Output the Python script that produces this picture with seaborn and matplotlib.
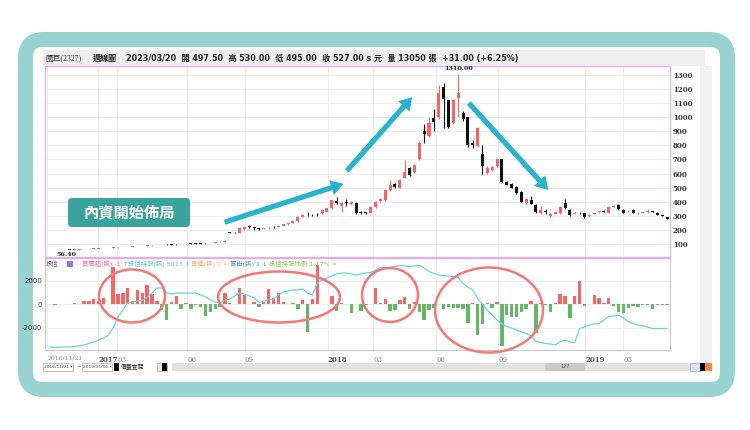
import numpy as np
import pandas as pd
import matplotlib
matplotlib.use("Agg")
import matplotlib.pyplot as plt
import seaborn as sns
from matplotlib.patches import FancyBboxPatch, Ellipse, Rectangle, FancyArrowPatch

sns.set_theme(style="white")
plt.rcParams['font.family'] = ['DejaVu Sans', 'Noto Sans CJK TC']

# 國巨(2327) 週線 2016/11/21 ~ 2019/05
opens = [57.5, 56.8, 57.2, 57.6, 58.6, 58.0, 60.0, 62.0, 63.2, 65.0,
         67.0, 69.0, 71.0, 72.2, 75.0, 76.2, 78.0, 80.2, 83.0, 85.0,
         87.2, 89.0, 91.0, 94.0, 93.5, 95.0, 97.0, 98.5, 100.0, 101.0,
         102.5, 103.5, 104.5, 104.0, 108.0, 112.0, 117.0, 182, 180, 176,
         205, 230, 218, 212, 208, 212, 220, 220, 230, 238,
         250, 262, 294, 314, 308, 307, 318, 330, 355, 402,
         370, 395, 382, 392, 328, 324, 322, 364, 402, 412,
         482, 525, 500, 570, 640, 610, 700, 900, 870, 995,
         1000, 1215, 1120, 960, 1140, 1030, 1000, 820, 795, 740,
         605, 625, 650, 700, 540, 525, 505, 470, 390, 410,
         375, 320, 335, 300, 315, 320, 390, 340, 315, 322,
         320, 298, 315, 326, 335, 320, 365, 375, 340, 332,
         340, 318, 322, 327, 332, 320, 302, 290]
highs = [58.0, 57.6, 58.0, 59.0, 59.0, 60.5, 62.6, 64.0, 65.6, 67.6,
         70.0, 72.0, 73.0, 76.0, 77.0, 79.0, 81.0, 84.0, 86.0, 88.0,
         90.0, 92.0, 94.0, 95.5, 96.0, 97.0, 98.5, 100.0, 101.5, 103.0,
         104.0, 105.0, 106.0, 109.0, 113.0, 118.0, 125.0, 185, 183, 215,
         226, 235, 221, 215, 215, 219, 227, 231, 241, 251,
         265, 296, 310, 328, 316, 318, 342, 356, 414, 430,
         396, 418, 402, 396, 334, 330, 366, 405, 425, 485,
         555, 530, 560, 695, 645, 665, 830, 955, 1000, 1060,
         1230, 1240, 1125, 1130, 1310, 1045, 1005, 840, 930, 800,
         650, 655, 705, 705, 545, 530, 510, 475, 425, 440,
         380, 370, 345, 320, 330, 370, 420, 345, 330, 330,
         322, 310, 326, 336, 340, 370, 378, 380, 345, 342,
         345, 326, 330, 345, 336, 325, 306, 294]
lows = [56.4, 56.5, 56.8, 57.2, 57.6, 57.6, 59.6, 61.2, 62.4, 64.4,
        66.2, 68.0, 70.0, 71.4, 74.0, 75.4, 77.0, 79.2, 82.0, 84.0,
        86.2, 88.0, 90.0, 91.0, 92.0, 93.5, 95.0, 96.5, 98.0, 99.5,
        100.5, 101.5, 102.5, 103.0, 107.0, 111.0, 116.0, 176, 175, 174,
        200, 214, 200, 198, 205, 209, 212, 218, 228, 236,
        248, 258, 290, 300, 298, 296, 315, 326, 350, 382,
        330, 372, 375, 316, 312, 312, 318, 358, 398, 405,
        478, 500, 495, 565, 585, 605, 695, 815, 860, 905,
        990, 925, 920, 950, 1000, 975, 790, 780, 790, 600,
        595, 615, 645, 530, 515, 495, 455, 395, 385, 380,
        320, 315, 315, 290, 310, 315, 350, 300, 310, 312,
        285, 292, 312, 322, 325, 318, 360, 340, 318, 328,
        318, 314, 318, 323, 325, 302, 295, 278]
closes = [56.8, 57.2, 57.6, 58.6, 58.0, 60.0, 62.0, 63.2, 65.0, 67.0,
          69.0, 71.0, 72.2, 75.0, 76.2, 78.0, 80.2, 83.0, 85.0, 87.2,
          89.0, 91.0, 93.0, 92.0, 93.0, 94.5, 96.0, 97.5, 99.0, 100.5,
          101.5, 102.5, 103.5, 108.0, 112.0, 117.0, 124.0, 178, 178, 211,
          222, 220, 210, 208, 212, 216, 218, 228, 238, 248,
          262, 292, 306, 310, 306, 305, 338, 352, 410, 388,
          388, 393, 398, 322, 318, 318, 362, 400, 420, 480,
          520, 505, 555, 610, 590, 660, 820, 880, 960, 965,
          1170, 1130, 930, 1120, 1170, 990, 800, 805, 925, 650,
          640, 645, 700, 540, 520, 500, 460, 400, 420, 385,
          325, 340, 330, 310, 325, 365, 355, 305, 322, 318,
          290, 305, 322, 332, 328, 365, 372, 345, 322, 337,
          322, 322, 326, 332, 328, 305, 298, 280]

# 投信 買賣超(張)
net_flow = [40, -30, 50, 30, 20, 150, 60, 300, 300, 460,
            300, 510, 50, 3150, 890, 1000, 1370, 290, 1230, 940,
            1660, 860, 310, -490, -1340, 230, 740, -400, 90, -400,
            -100, -200, -970, -630, -400, -200, 940, 100, 0, 1370,
            800, 60, 170, -200, 230, 1290, 510, 940, 230, 20,
            140, -430, 370, -2340, 430, 3290, 30, 60, 710, -570,
            140, 20, -710, 40, -570, -60, 60, 1370, 90, 430,
            -570, -490, 370, 600, -430, 170, -630, -1340, -490, -290,
            50, -430, -200, -290, -340, -430, -1570, 90, -2630, -1690,
            90, -340, 170, -3540, -910, -1060, -1110, -630, -430, 310,
            -2430, 90, -30, -630, 80, 890, 740, -1200, 710, 1940,
            -110, 30, 800, 570, 140, 510, -110, -690, -710, -290,
            -110, -200, -30, -60, -430, -50, -60, -40]

# 投信持股(張)
holdings = [540, 540, 540, 600, 600, 700, 800, 1000, 1300, 1600,
            2000, 2400, 3000, 4400, 6600, 8000, 9400, 9600, 9800, 9900,
            10600, 11400, 12400, 12400, 11400, 11200, 11400, 11400, 11400, 11400,
            11400, 11000, 10600, 10000, 9600, 9400, 10000, 10200, 10800, 11400,
            11200, 10800, 10400, 9500, 9800, 10000, 10200, 11000, 11600, 11800,
            12000, 12000, 12200, 11400, 11000, 13400, 14000, 14400, 14800, 15200,
            15400, 15400, 15200, 15000, 15200, 15400, 15500, 16000, 16500, 16500,
            16500, 16700, 16900, 16800, 16700, 16800, 16900, 16400, 15700, 15300,
            15000, 14900, 14800, 14700, 14500, 13300, 12600, 12000, 10300, 9200,
            8000, 7000, 6000, 5200, 4700, 4400, 4000, 3600, 3300, 2800,
            1700, 1500, 1300, 1200, 1000, 1600, 2000, 1600, 1500, 4300,
            4600, 5000, 5200, 5300, 6000, 6700, 6800, 7000, 6400, 5700,
            5300, 5000, 4800, 4600, 4300, 4300, 4300, 4300]

price_ticks = [100, 200, 300, 400, 500, 600, 700, 800, 900, 1000, 1100, 1200, 1300]
flow_ticks = [2000, 0, -2000]
date_labels = ['2016/11/21', '2017', '03', '06', '09', '2018', '03', '06', '09', '2019', '03']
date_weeks = [-0.6, 9.9, 13.8, 28.2, 40.1, 57.2, 66.5, 79.5, 92.3, 110.2, 118.0]

RED = '#f76464'
BLACK = '#111111'
GREEN = '#62b866'
CYAN = '#63d6dc'
PINK = '#f0a6ef'
ARROW = '#2ab3cd'
RING = '#f47878'

W, H = 750, 430
fig = plt.figure(figsize=(7.5, 4.3), dpi=100)
fig.patch.set_facecolor('white')

def rect(x0, y0, x1, y1):
    return [x0 / W, 1 - y1 / H, (x1 - x0) / W, (y1 - y0) / H]

# background layer in pixel units
bg = fig.add_axes([0, 0, 1, 1], zorder=-5)
bg.set_xlim(0, W)
bg.set_ylim(H, 0)
bg.axis('off')
bg.add_patch(FancyBboxPatch((25.5, 39.5), 702, 350, boxstyle='round,pad=0,rounding_size=18',
                            facecolor='white', edgecolor='#98d3cf', linewidth=10.8))
bg.add_patch(Rectangle((43, 50), 662, 16, facecolor='#efefef', edgecolor='none'))
bg.add_patch(Rectangle((700, 66), 12, 300, facecolor='#f1f1f1', edgecolor='none'))
bg.text(45, 58, '國巨(2327)', fontsize=5.6, color='#333333', va='center',
        family=['Liberation Serif', 'Noto Sans CJK TC'])
bg.text(93, 58, '週線圖', fontsize=5.8, color='#222222', va='center', fontweight='bold')
bg.text(126, 58, '2023/03/20  開 497.50  高 530.00  低 495.00  收 527.00 s 元  量 13050 張  +31.00 (+6.25%)',
        fontsize=5.8, color='#222222', va='center', fontweight='bold')

x = np.arange(len(closes))
o = np.array(opens)
c = np.array(closes)
up = c >= o
colors = np.where(up, RED, BLACK)

# price panel
axp = fig.add_axes(rect(45, 66, 670, 257))
axp.vlines(x, lows, highs, colors=colors, linewidth=0.8, zorder=3)
axp.bar(x, np.maximum(np.abs(c - o), 2.5), bottom=np.minimum(o, c), width=0.62,
        color=colors, linewidth=0, zorder=4)
axp.set_xlim(-1.03, 127.6)
axp.set_ylim(7, 1364)
axp.set_yticks(price_ticks)
axp.yaxis.tick_right()
axp.tick_params(axis='y', length=0, pad=2, labelsize=5, labelcolor='#333333')
for t in axp.get_yticklabels():
    t.set_family('DejaVu Serif')
    t.set_fontweight('bold')
axp.set_xticks(date_weeks)
axp.set_xticklabels([])
axp.tick_params(axis='x', length=0)
axp.grid(True, color='#ececec', linewidth=0.7)
for s in axp.spines.values():
    s.set_color(PINK)
    s.set_linewidth(0.8)
pk = int(np.argmax(highs))
axp.annotate(f'{highs[pk]:.2f}', (x[pk], highs[pk]), xytext=(0, 2), textcoords='offset points',
             ha='center', va='bottom', fontsize=4.6, fontweight='bold', family='DejaVu Serif',
             color='#222222')
lo = int(np.argmin(lows))
axp.annotate(f'{lows[lo]:.2f}', (x[lo], lows[lo]), xytext=(5, -1.5), textcoords='offset points',
             ha='left', va='top', fontsize=4.6, fontweight='bold', family='DejaVu Serif',
             color='#222222')

# 投信 panel
axl = fig.add_axes(rect(45, 258, 670, 350))
flows = np.array(net_flow)
axl.bar(x, flows, width=0.7, color=np.where(flows >= 0, RED, GREEN), linewidth=0, zorder=3)
axl.set_xlim(-1.03, 127.6)
axl.set_ylim(-3873, 3924)
axl.set_yticks(flow_ticks)
axl.set_yticklabels([str(v) for v in flow_ticks])
axl.yaxis.tick_right()
axl.tick_params(axis='y', length=0, pad=2, labelsize=5, labelcolor='#333333')
for t in axl.get_yticklabels():
    t.set_family('DejaVu Serif')
    t.set_fontweight('bold')
axl.set_xticks(date_weeks)
axl.set_xticklabels(date_labels)
axl.tick_params(axis='x', length=2.5, color='#bbbbbb', pad=1.5, labelsize=5, labelcolor='#888888')
for t, lab in zip(axl.get_xticklabels(), date_labels):
    t.set_family('DejaVu Serif')
    t.set_ha('left')
    if len(lab) == 4:
        t.set_fontweight('bold')
        t.set_color('#555555')
    if len(lab) > 4:
        t.set_fontsize(4.4)
axl.grid(True, color='#ececec', linewidth=0.7)
for s in axl.spines.values():
    s.set_color('#c8c8c8')
    s.set_linewidth(0.8)
axl.spines['top'].set_color(PINK)

axh = axl.twinx()
sns.lineplot(x=x, y=holdings, ax=axh, color=CYAN, linewidth=0.9)
axh.set_ylim(0, 18400)
axh.set_yticks([])
axh.set_ylabel('')
for s in axh.spines.values():
    s.set_visible(False)

# overlay: legend row, scrollbar, callouts
fg = fig.add_axes([0, 0, 1, 1], zorder=10)
fg.set_xlim(0, W)
fg.set_ylim(H, 0)
fg.axis('off')
fg.patch.set_alpha(0)

fg.text(46, 264, '投信', fontsize=4.6, color='#666666', va='center')
fg.add_patch(Rectangle((67, 260.5), 6, 6, facecolor='#9b6fe0', edgecolor='none'))
legend_row = [(82, '買賣超(張) -1 ↑', '#ff6f8f'), (128, '投信持股(張) 5013 ↓', '#4fc8cc'),
              (191, '買進(張) 0 =', '#f7ae6a'), (230, '賣出(張) 1 ↓', '#4a9fc8'),
              (269, '投信持股比例 1.17% =', '#8cc43c')]
for lx, txt, col in legend_row:
    fg.text(lx, 264, txt, fontsize=4.6, color=col, va='center')

fg.add_patch(Rectangle((43, 363), 30, 8, facecolor='white', edgecolor='#aaaaaa', linewidth=0.5))
fg.text(44, 367, '2016/11/21 ▾', fontsize=3.2, color='#444444', va='center')
fg.text(76, 367, '~', fontsize=4, color='#444444', va='center')
fg.add_patch(Rectangle((82, 363), 30, 8, facecolor='white', edgecolor='#aaaaaa', linewidth=0.5))
fg.text(83, 367, '2019/05/06 ▾', fontsize=3.2, color='#444444', va='center')
fg.add_patch(Rectangle((114, 363), 5, 8, facecolor='black', edgecolor='none'))
fg.text(121, 367, '價量查閱', fontsize=4.2, color='#333333', va='center')
fg.add_patch(Rectangle((157, 363), 10, 8, facecolor='#e8e8e8', edgecolor='#aaaaaa', linewidth=0.5))
fg.add_patch(Rectangle((162, 363), 5, 8, facecolor='black', edgecolor='none'))
fg.add_patch(Rectangle((172, 363), 518, 8, facecolor='#e3e3e3', edgecolor='none'))
fg.add_patch(Rectangle((545, 363), 40, 8, facecolor='#c9c9c9', edgecolor='none'))
fg.text(565, 367, '127', fontsize=3.6, color='#555555', va='center', ha='center')
fg.add_patch(Rectangle((690, 363), 10, 8, facecolor='#d8e4f4', edgecolor='#8aa0c0', linewidth=0.5))
fg.add_patch(Rectangle((700, 363), 5, 8, facecolor='black', edgecolor='none'))
fg.add_patch(Rectangle((705, 363), 7, 8, facecolor='#f08a3a', edgecolor='none'))

fg.add_patch(FancyBboxPatch((68, 198), 122, 29, boxstyle='round,pad=0,rounding_size=4',
                            facecolor='#3aa39b', edgecolor='none'))
fg.text(129, 212.5, '內資開始佈局', fontsize=11, color='white', fontweight='bold',
        ha='center', va='center', family=['Noto Sans CJK TC'])

for (x0, y0), (x1, y1) in [((222, 223), (346, 183)), ((345, 173), (414, 95)),
                           ((467, 101), (550, 192))]:
    fg.add_patch(FancyArrowPatch((x0, y0), (x1, y1), arrowstyle='simple,head_length=1.0,head_width=1.25,tail_width=0.42',
                                 mutation_scale=9, color=ARROW, linewidth=0))

for cx, cy, ew, eh in [(132, 296, 66, 53), (279, 297, 122, 51), (390, 295, 56, 54), (489, 310, 108, 85)]:
    fg.add_patch(Ellipse((cx, cy), ew, eh, facecolor='none', edgecolor=RING, linewidth=1.8))

fig.savefig('out.png', dpi=100)
